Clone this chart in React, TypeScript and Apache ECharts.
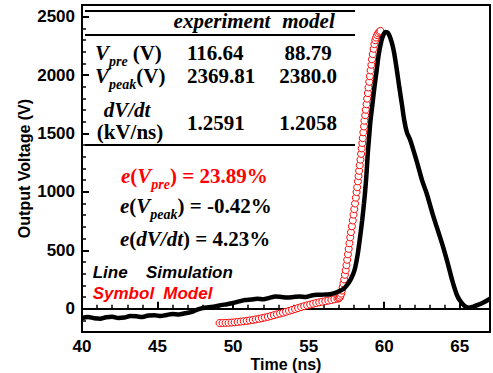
import React, { useEffect, useRef } from 'react';
import * as echarts from 'echarts';

// ---- Data ----
const simTime = [40.0, 40.4, 40.8, 41.2, 41.6, 42.0, 42.4, 42.8, 43.2, 43.6, 44.0, 44.4, 44.8, 45.2, 45.6, 46.0, 46.4, 46.8, 47.2, 47.6, 48.0, 48.4, 48.8, 49.2, 49.6, 50.0, 50.4, 50.8, 51.2, 51.6, 52.0, 52.4, 52.8, 53.2, 53.6, 54.0, 54.4, 54.8, 55.2, 55.6, 56.0, 56.4, 56.8, 57.2, 57.5, 57.8, 58.03, 58.25, 58.4, 58.54, 58.66, 58.76, 58.84, 58.91, 59.0, 59.09, 59.22, 59.35, 59.5, 59.64, 59.8, 59.95, 60.1, 60.25, 60.4, 60.55, 60.67, 60.85, 61.0, 61.17, 61.33, 61.5, 61.7, 61.9, 62.2, 62.5, 62.8, 63.2, 63.6, 63.9, 64.2, 64.5, 64.8, 65.0, 65.3, 65.6, 65.9, 66.2, 66.6, 67.0];
const simVoltage = [-80, -72, -82, -86, -74, -70, -80, -76, -64, -66, -72, -58, -56, -64, -54, -46, -50, -40, -30, -10, 6, 12, 18, 30, 38, 48, 62, 74, 78, 84, 80, 92, 104, 100, 96, 100, 104, 100, 112, 118, 120, 124, 138, 160, 195, 255, 327, 470, 610, 755, 900, 1039, 1180, 1325, 1470, 1609, 1750, 1894, 2040, 2179, 2285, 2345, 2368, 2362, 2320, 2255, 2179, 2030, 1894, 1750, 1609, 1510, 1450, 1370, 1240, 1100, 990, 812, 650, 527, 390, 242, 120, 71, 25, 8, 18, 32, 55, 85];

const modelTime = [49.1, 49.3, 49.5, 49.7, 49.9, 50.1, 50.3, 50.5, 50.7, 50.9, 51.1, 51.3, 51.5, 51.7, 51.9, 52.1, 52.3, 52.5, 52.7, 52.9, 53.1, 53.3, 53.5, 53.7, 53.9, 54.1, 54.3, 54.5, 54.7, 54.9, 55.1, 55.3, 55.5, 55.7, 55.9, 56.1, 56.3, 56.5, 56.7, 56.9,
  57.0, 57.05, 57.1, 57.15, 57.2, 57.25, 57.3, 57.35, 57.4, 57.45, 57.5, 57.55, 57.6, 57.65, 57.7, 57.75, 57.8, 57.86, 57.92, 57.97, 58.02, 58.07, 58.12, 58.17, 58.21, 58.26, 58.3, 58.34, 58.38, 58.43, 58.47, 58.51, 58.55, 58.58, 58.62, 58.66, 58.69, 58.74, 58.78, 58.83, 58.87, 58.92, 58.96, 59.01, 59.05, 59.1, 59.15, 59.19, 59.24, 59.3, 59.35, 59.41, 59.46, 59.53, 59.6, 59.68, 59.75];
const modelVoltage = [-123, -123, -122, -121, -119, -117, -114, -111, -108, -105, -101, -97, -92, -87, -82, -76, -70, -63, -56, -49, -42, -35, -27, -19, -11, -3, 5, 13, 21, 28, 35, 42, 48, 54, 59, 64, 69, 74, 80, 85,
  88, 95, 110, 128, 155, 183, 215, 250, 290, 330, 372, 418, 465, 512, 560, 610, 655, 705, 755, 805, 852, 900, 950, 998, 1039, 1090, 1135, 1180, 1228, 1276, 1325, 1372, 1418, 1460, 1510, 1560, 1609, 1656, 1703, 1750, 1798, 1846, 1894, 1942, 1990, 2040, 2088, 2135, 2179, 2225, 2265, 2298, 2321, 2342, 2358, 2370, 2378];

const tableHeader = ['experiment', 'model'];
const vpreValues = ['116.64', '88.79'];
const vpeakValues = ['2369.81', '2380.0'];
const dvdtValues = ['1.2591', '1.2058'];
const errorValues = ['23.89%', '-0.42%', '4.23%'];
const legendLine = ['Line', 'Simulation'];
const legendSymbol = ['Symbol', 'Model'];

const SERIF = '"Liberation Serif", "Times New Roman", serif';
const SANS = '"Liberation Sans", Arial, sans-serif';

let mctx: CanvasRenderingContext2D | null = null;
function measure(t: string, size: number, italic: boolean, family: string) {
  if (!mctx) mctx = document.createElement('canvas').getContext('2d');
  if (!mctx) return t.length * size * 0.5;
  mctx.font = `${italic ? 'italic ' : ''}bold ${size}px ${family}`;
  return mctx.measureText(t).width;
}

type Part = { t: string; size?: number; it?: boolean; dy?: number; gap?: number };
function run(parts: Part[], x: number, y: number, color: string, family: string, align: 'left' | 'center' = 'left', defSize = 21) {
  const widths = parts.map((p) => (p.gap ?? 0) + measure(p.t, p.size ?? defSize, !!p.it, family));
  const total = widths.reduce((a, b) => a + b, 0);
  let cx = align === 'center' ? x - total / 2 : x;
  return parts.map((p, i) => {
    const el = {
      type: 'text',
      x: cx + (p.gap ?? 0),
      y: y + (p.dy ?? 0),
      z: 100,
      style: {
        text: p.t,
        fill: color,
        fontSize: p.size ?? defSize,
        fontFamily: family,
        fontWeight: 'bold',
        fontStyle: p.it ? 'italic' : 'normal',
        align: 'left',
        verticalAlign: 'middle',
      },
    };
    cx += widths[i];
    return el;
  });
}

function rule(y: number) {
  return { type: 'line', z: 100, shape: { x1: 85, y1: y, x2: 355, y2: y }, style: { stroke: '#000', lineWidth: 2 } };
}

export default function App() {
  const ref = useRef<HTMLDivElement>(null);
  useEffect(() => {
    if (!ref.current) return;
    const chart = echarts.init(ref.current, undefined, { renderer: 'svg' });
    const simData = simTime.map((t, i) => [t, simVoltage[i]]);
    const modelData = modelTime.map((t, i) => [t, modelVoltage[i]]);
    const SUB = 14;
    const SDY = 8;
    const graphics: any[] = [
      rule(11), rule(35), rule(145),
      ...run([{ t: tableHeader[0], it: true }], 222, 21, '#000', SERIF, 'center'),
      ...run([{ t: tableHeader[1], it: true }], 308.5, 21, '#000', SERIF, 'center'),
      ...run([{ t: 'V', it: true }, { t: 'pre', it: true, size: SUB, dy: SDY }, { t: '(V)', gap: 5 }], 95, 53, '#000', SERIF),
      ...run([{ t: 'V', it: true }, { t: 'peak', it: true, size: SUB, dy: SDY }, { t: '(V)' }], 95, 76, '#000', SERIF),
      ...run([{ t: 'dV/dt', it: true }], 127, 110, '#000', SERIF, 'center'),
      ...run([{ t: '(kV/ns)' }], 130, 132, '#000', SERIF, 'center'),
      ...run([{ t: vpreValues[0] }], 187, 53, '#000', SERIF),
      ...run([{ t: vpeakValues[0] }], 187, 76, '#000', SERIF),
      ...run([{ t: dvdtValues[0] }], 187, 123, '#000', SERIF),
      ...run([{ t: vpreValues[1] }], 308, 53, '#000', SERIF, 'center'),
      ...run([{ t: vpeakValues[1] }], 308, 76, '#000', SERIF, 'center'),
      ...run([{ t: dvdtValues[1] }], 308, 123, '#000', SERIF, 'center'),
      ...run([{ t: 'e', it: true }, { t: '(' }, { t: 'V', it: true }, { t: 'pre', it: true, size: SUB, dy: SDY }, { t: ') = ' + errorValues[0] }], 121, 176, '#ff0000', SERIF),
      ...run([{ t: 'e', it: true }, { t: '(' }, { t: 'V', it: true }, { t: 'peak', it: true, size: SUB, dy: SDY }, { t: ') = ' + errorValues[1] }], 120, 206, '#000', SERIF),
      ...run([{ t: 'e', it: true }, { t: '(' }, { t: 'dV/dt', it: true }, { t: ') = ' + errorValues[2] }], 120, 239, '#000', SERIF),
      ...run([{ t: legendLine[0], it: true }], 92.7, 272.5, '#000', SANS, 'left', 17),
      ...run([{ t: legendLine[1], it: true }], 146, 272.5, '#000', SANS, 'left', 17),
      ...run([{ t: legendSymbol[0], it: true }], 92.7, 293, '#ff0000', SANS, 'left', 17),
      ...run([{ t: legendSymbol[1], it: true }], 163.3, 293, '#ff0000', SANS, 'left', 17),
    ];
    const labelStyle = { color: '#000', fontSize: 17, fontWeight: 'bold' as const, fontFamily: SANS };
    chart.setOption({
      animation: false,
      backgroundColor: '#fff',
      grid: { left: 82, right: 3, top: 5, bottom: 41, show: true, borderColor: '#000', borderWidth: 2, backgroundColor: 'transparent', outerBoundsMode: 'none', containLabel: false },
      xAxis: [
        {
          type: 'value', min: 40, max: 67, interval: 5, position: 'bottom',
          axisLine: { show: true, lineStyle: { color: '#000', width: 2 } },
          axisTick: { show: true, inside: true, length: 7, lineStyle: { color: '#000', width: 2 } },
          axisLabel: { ...labelStyle, margin: 6, showMaxLabel: false },
          splitLine: { show: false },
          name: 'Time (ns)', nameLocation: 'middle', nameGap: 24, nameMoveOverlap: false,
          nameTextStyle: { color: '#000', fontSize: 16, fontWeight: 'bold', fontFamily: SANS },
        },
        {
          type: 'value', min: 40, max: 67, interval: 1, position: 'bottom',
          axisLine: { show: false },
          axisTick: { show: true, inside: true, length: 4, lineStyle: { color: '#000', width: 1.5 } },
          axisLabel: { show: false }, splitLine: { show: false },
        },
      ],
      yAxis: [
        {
          type: 'value', min: -200, max: 2600, splitNumber: 5, position: 'left',
          axisLine: { show: true, lineStyle: { color: '#000', width: 2 } },
          axisTick: { show: true, inside: true, length: 7, lineStyle: { color: '#000', width: 2 } },
          axisLabel: { ...labelStyle, margin: 7, showMinLabel: false, showMaxLabel: false, formatter: (v: number) => (v % 500 === 0 ? String(v) : '') },
          splitLine: { show: false },
          name: 'Output Voltage (V)', nameLocation: 'middle', nameGap: 50, nameMoveOverlap: false,
          nameTextStyle: { color: '#000', fontSize: 16, fontWeight: 'bold', fontFamily: SANS },
        },
        {
          type: 'value', min: -200, max: 2600, interval: 100, position: 'left',
          axisLine: { show: false },
          axisTick: { show: true, inside: true, length: 4, lineStyle: { color: '#000', width: 1.5 } },
          axisLabel: { show: false }, splitLine: { show: false },
        },
      ],
      series: [
        {
          type: 'line', data: simData, xAxisIndex: 0, yAxisIndex: 0,
          showSymbol: false, symbol: 'none', smooth: 0.3,
          lineStyle: { color: '#000', width: 4.5 },
        },
        {
          type: 'scatter', data: modelData, xAxisIndex: 0, yAxisIndex: 0,
          symbol: 'circle', symbolSize: 7,
          itemStyle: { color: '#fff', borderColor: '#ff0000', borderWidth: 1, opacity: 1 },
        },
      ],
      graphic: graphics,
    });
    return () => chart.dispose();
  }, []);
  return <div ref={ref} style={{ position: 'absolute', left: 0, top: 0, width: 493, height: 373 }} />;
}
